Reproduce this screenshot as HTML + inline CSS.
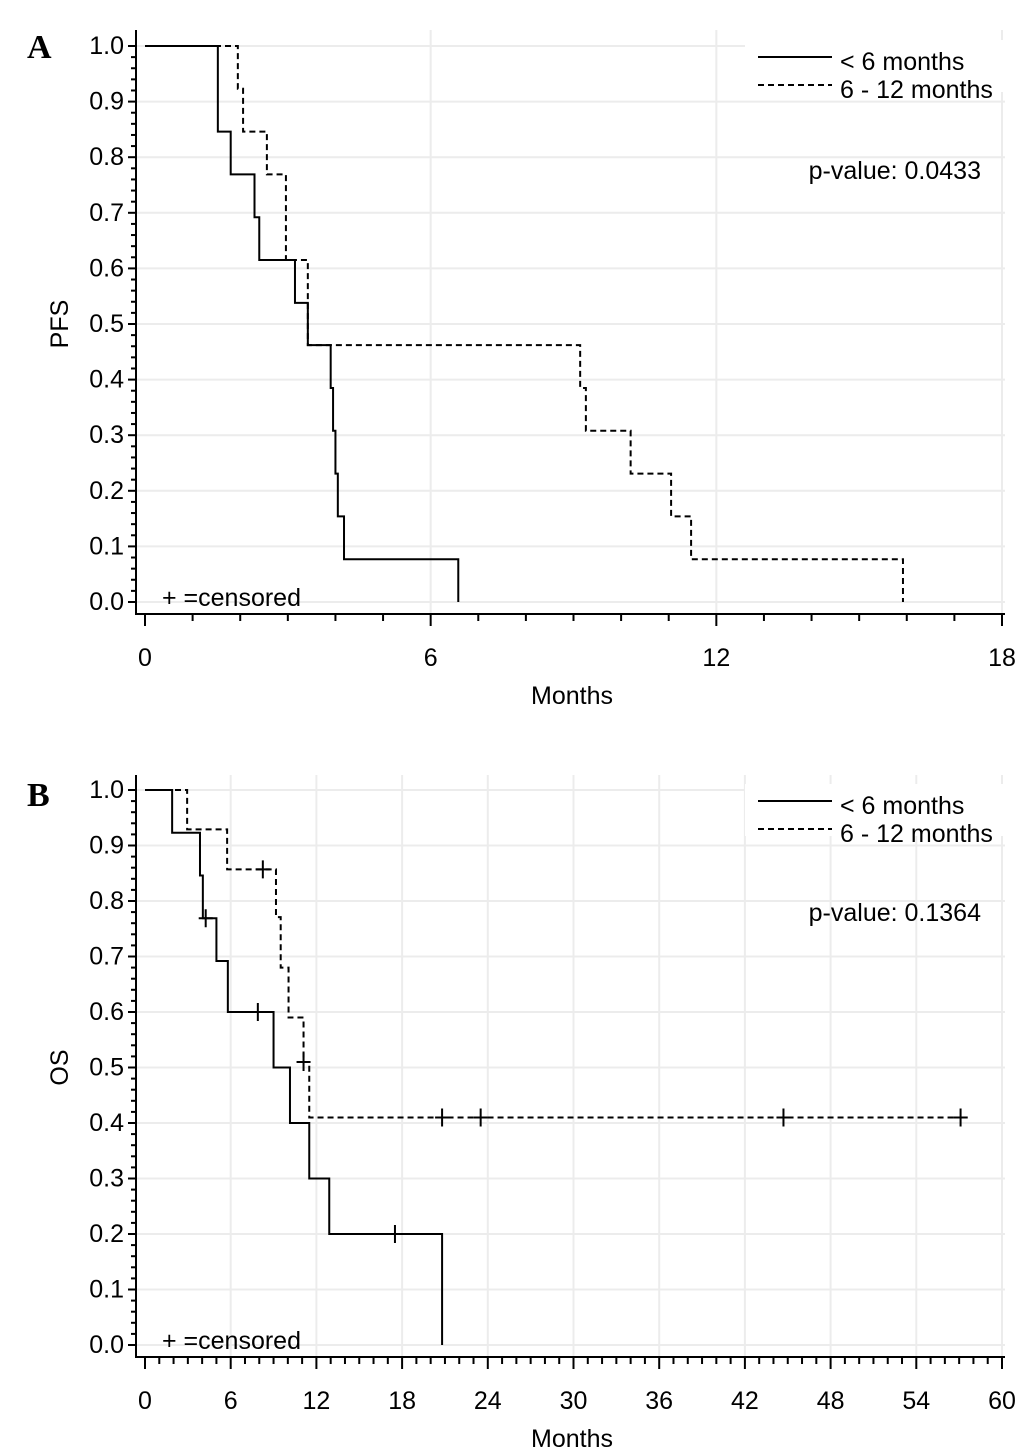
<!DOCTYPE html>
<html><head><meta charset="utf-8"><style>
body{margin:0;background:#fff;}
svg{display:block;font-family:"Liberation Sans",Arial,sans-serif;}
</style></head><body>
<svg id="fig" width="1033" height="1454" viewBox="0 0 1033 1454"></svg>
<script>
// Panel A (PFS) data
const aXTicks=[0,6,12,18];
const aYTicks=[0,0.1,0.2,0.3,0.4,0.5,0.6,0.7,0.8,0.9,1.0];
const aSolidT=[0,1.53,1.8,2.3,2.4,3.15,3.42,3.9,3.95,4.0,4.05,4.18,6.58];
const aSolidS=[1,0.846,0.769,0.692,0.615,0.538,0.462,0.385,0.308,0.231,0.154,0.077,0];
const aDashT=[0,1.95,2.06,2.56,2.96,3.42,9.14,9.26,10.2,11.05,11.47,15.92];
const aDashS=[1,0.923,0.846,0.769,0.615,0.462,0.385,0.308,0.231,0.154,0.077,0];
const aSolidCens=[];
const aDashCens=[];
// Panel B (OS) data
const bXTicks=[0,6,12,18,24,30,36,42,48,54,60];
const bYTicks=[0,0.1,0.2,0.3,0.4,0.5,0.6,0.7,0.8,0.9,1.0];
const bSolidT=[0,1.9,3.85,4.05,5.0,5.8,9.0,10.15,11.5,12.9,20.8];
const bSolidS=[1,0.923,0.846,0.769,0.692,0.6,0.5,0.4,0.3,0.2,0];
const bSolidCens=[[4.25,0.769],[7.9,0.6],[17.5,0.2]];
const bDashT=[0,2.95,5.75,9.17,9.5,10.05,11.1,11.5];
const bDashS=[1,0.929,0.857,0.771,0.68,0.59,0.51,0.41];
const bDashEnd=57.6;
const bDashCens=[[8.25,0.857],[11.1,0.51],[20.8,0.41],[23.5,0.41],[44.7,0.41],[57.1,0.41]];

const NS="http://www.w3.org/2000/svg";
const svg=document.getElementById('fig');
const FS=25;
function mk(tag,attrs,parent){const e=document.createElementNS(NS,tag);for(const k in attrs)e.setAttribute(k,attrs[k]);(parent||svg).appendChild(e);return e;}

function panel(o){
  const g=mk('g',{});
  
  
  const xs=v=>o.x0+(v-o.xmin)/(o.xmax-o.xmin)*(o.x1-o.x0);
  const ys=v=>o.y0-(v)*(o.y0-o.y1);
  o.xTicks.forEach(t=>{if(t>0){const l=mk('line',{x1:xs(t),x2:xs(t),y1:o.top,y2:o.axisY,stroke:'#ececec','stroke-width':2},g);}});
  o.yTicks.forEach(t=>{const l=mk('line',{x1:o.axisX,x2:o.right,y1:ys(t),y2:ys(t),stroke:'#ececec','stroke-width':2},g);});
  mk('rect',{x:745,y:o.legY-17,width:265,height:52,fill:'#fff'},g);
  const ax=mk('path',{d:`M${o.axisX},${o.top} V${o.axisY} H${o.right}`,stroke:'#000','stroke-width':2,fill:'none'},g);
  
  for(let v=0;v<=1.0001;v+=0.02){const major=Math.abs(v*10-Math.round(v*10))<1e-6;mk('line',{x1:o.axisX-(major?8:5),x2:o.axisX,y1:ys(v),y2:ys(v),stroke:'#000','stroke-width':2},g);}
  o.yTicks.forEach(t=>{const tx=mk('text',{x:o.axisX-12,y:ys(t)+8,'font-size':FS,'text-anchor':'end'},g);tx.textContent=t.toFixed(1);});
  for(let v=o.xmin;v<=o.xmax+1e-6;v+=1){const major=o.xTicks.includes(v);mk('line',{x1:xs(v),x2:xs(v),y1:o.axisY,y2:o.axisY+(major?12:7),stroke:'#000','stroke-width':2},g);}
  o.xTicks.forEach(t=>{const tx=mk('text',{x:xs(t),y:o.axisY+52,'font-size':FS,'text-anchor':'middle'},g);tx.textContent=t;});
  const xt=mk('text',{x:572,y:o.axisY+90,'font-size':FS,'text-anchor':'middle'},g);xt.textContent='Months';
  
  const ycy=(o.y0+o.y1)/2;
  const yt=mk('text',{x:68,y:ycy,'font-size':FS,'text-anchor':'middle',transform:`rotate(-90 68 ${ycy})`},g);yt.textContent=o.ytitle;
  
  const pl=mk('text',{x:27,y:o.letterY,'font-size':34,'font-weight':'bold','font-family':'Liberation Serif, serif'},g);pl.textContent=o.letter;
  
  function step(T,S,end,dash,nm){
    let d=`M${xs(T[0])},${ys(S[0])}`;
    for(let i=1;i<T.length;i++){d+=` H${xs(T[i])} V${ys(S[i])}`;}
    if(end!=null)d+=` H${xs(end)}`;
    const p=mk('path',{d,fill:'none',stroke:'#000','stroke-width':2,'stroke-dasharray':dash?'6,4':'none'},g);
    
  }
  step(o.dT,o.dS,o.dEnd,true,'curve-6-12-months');
  step(o.sT,o.sS,null,false,'curve-lt-6-months');
  [...o.sC,...o.dC].forEach(c=>{const cx=xs(c[0]),cy=ys(c[1]);
    const p=mk('path',{d:`M${cx-7},${cy} H${cx+7} M${cx},${cy-9} V${cy+9}`,stroke:'#000','stroke-width':2},g);
    });
  const l1=mk('line',{x1:758,x2:832,y1:o.legY,y2:o.legY,stroke:'#000','stroke-width':2},g);
  
  const t1=mk('text',{x:840,y:o.legY+13,'font-size':FS},g);t1.textContent='< 6 months';
  
  const l2=mk('line',{x1:758,x2:832,y1:o.legY+28,y2:o.legY+28,stroke:'#000','stroke-width':2,'stroke-dasharray':'6,4'},g);
  
  const t2=mk('text',{x:840,y:o.legY+41,'font-size':FS},g);t2.textContent='6 - 12 months';
  
  const pv=mk('text',{x:981,y:o.pY,'font-size':FS,'text-anchor':'end'},g);pv.textContent=o.pval;
  
  const cn=mk('text',{x:162,y:o.y0+4,'font-size':FS},g);cn.textContent='+ =censored';
  
}
panel({name:'panel-a-pfs',xmin:0,xmax:18,x0:145,x1:1002,y0:602,y1:46,axisX:136,axisY:614,top:30,right:1005,
  xTicks:aXTicks,yTicks:aYTicks,sT:aSolidT,sS:aSolidS,dT:aDashT,dS:aDashS,dEnd:null,sC:aSolidCens,dC:aDashCens,
  ytitle:'PFS',letter:'A',letterY:58,legY:57,pY:179,pval:'p-value: 0.0433'});
panel({name:'panel-b-os',xmin:0,xmax:60,x0:145,x1:1002,y0:1345,y1:790,axisX:136,axisY:1357,top:775,right:1005,
  xTicks:bXTicks,yTicks:bYTicks,sT:bSolidT,sS:bSolidS,dT:bDashT,dS:bDashS,dEnd:bDashEnd,sC:bSolidCens,dC:bDashCens,
  ytitle:'OS',letter:'B',letterY:806,legY:801,pY:921,pval:'p-value: 0.1364'});
</script>
</body></html>
